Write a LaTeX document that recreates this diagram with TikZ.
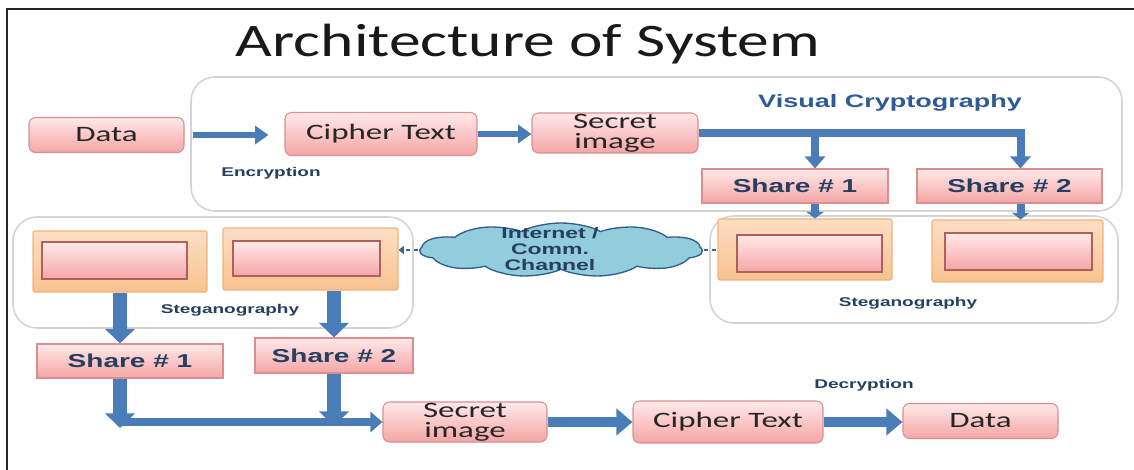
\documentclass[tikz,border=0pt]{standalone}
\usepackage{fontspec}
\usetikzlibrary{arrows.meta, shapes.symbols, calc}

\newfontfamily\boxfont[FakeStretch=1.5]{Carlito}
\newfontfamily\titlefont[FakeStretch=1.36]{Carlito}
\newfontfamily\labelfont[FakeStretch=1.5]{Liberation Sans}
\newcommand\px{*0.75pt}

\definecolor{pinktop}{HTML}{FFE9E9}
\definecolor{pinkbot}{HTML}{F5A5A5}
\definecolor{pinkline}{HTML}{D98F8F}
\definecolor{innerline}{HTML}{B0605C}
\definecolor{orangetop}{HTML}{FCDEC4}
\definecolor{orangebot}{HTML}{F8C28F}
\definecolor{orangeline}{HTML}{F2B27C}
\definecolor{groupline}{HTML}{D4D4D4}
\definecolor{arrowblue}{HTML}{4A7CB8}
\definecolor{navy}{HTML}{243F60}
\definecolor{vcblue}{HTML}{2E5A96}
\definecolor{cloudfill}{HTML}{93CDDD}
\definecolor{cloudline}{HTML}{2F5F86}

\tikzset{
  procbox/.style={draw=pinkline, line width=0.8pt, rounded corners=5pt,
    top color=pinktop, bottom color=pinkbot, inner sep=0pt, align=center,
    text=black!85, font=\boxfont\fontsize{16.5}{15}\selectfont},
  sharebox/.style={draw=pinkline, line width=0.8pt, top color=pinktop,
    bottom color=pinkbot, inner sep=0pt, text=navy,
    font=\labelfont\bfseries\fontsize{14}{16}\selectfont},
  hostbox/.style={draw=orangeline, line width=0.8pt, rounded corners=1.5pt,
    top color=orangetop, bottom color=orangebot, inner sep=0pt},
  innerbox/.style={draw=innerline, line width=0.8pt, top color=pinktop,
    bottom color=pinkbot, inner sep=0pt},
  groupbox/.style={draw=groupline, line width=1.2pt, rounded corners=18pt},
  tag/.style={text=navy, font=\labelfont\bfseries\fontsize{9.5}{11}\selectfont},
  flow/.style={draw=arrowblue, line width=5pt, -{Triangle[width=13.5pt,length=10pt]}},
  barflow/.style={draw=arrowblue, line width=6pt, -{Triangle[width=15pt,length=9pt]}},
  smallflow/.style={draw=arrowblue, line width=6pt, -{Triangle[width=13pt,length=5pt]}},
  bigflow/.style={draw=arrowblue, line width=10pt, -{Triangle[width=22pt,length=11pt]}},
  wideflow/.style={draw=arrowblue, line width=8pt, -{Triangle[width=19.5pt,length=12pt]}},
  dashlink/.style={draw=arrowblue!80!black, line width=2pt, dashed}
}

\begin{document}
\begin{tikzpicture}[x=0.75pt, y=-0.75pt]
  \useasboundingbox (0,0) rectangle (1134,470);
  \draw[line width=1.5pt, black!85] (7,470) -- (7,9) -- (1134,9);

  \node[anchor=base, font=\titlefont\fontsize{35}{40}\selectfont, text=black!90]
    (title) at (528,57) {Architecture of System};

  % group outlines
  \draw[groupbox] (191,77) rectangle (1122,211);
  \draw[groupbox] (13,217) rectangle (413,328);
  \draw[groupbox] (710,216) rectangle (1118,323);

  % encryption side
  \node[procbox, minimum width=155\px, minimum height=35\px] (data1) at (106.5,135) {Data};
  \node[procbox, minimum width=192\px, minimum height=43\px] (cipher1) at (381,134) {Cipher Text};
  \node[procbox, minimum width=166\px, minimum height=40\px] (secret1) at (615,133) {Secret\\image};
  \node[tag] (enc) at (271,173) {Encryption};
  \node[text=vcblue, font=\labelfont\bfseries\fontsize{13.5}{15}\selectfont]
    (vc) at (890,103) {Visual Cryptography};

  \node[sharebox, minimum width=186\px, minimum height=34\px] (share1a) at (795,186) {Share \# 1};
  \node[sharebox, minimum width=185\px, minimum height=34\px] (share2a) at (1009.5,186) {Share \# 2};

  % stego boxes, right
  \node[hostbox, minimum width=174\px, minimum height=61\px] (r1) at (805,249.5) {};
  \node[innerbox, minimum width=145\px, minimum height=37\px] (r1in) at (809.5,253.5) {};
  \node[hostbox, minimum width=171\px, minimum height=62\px] (r2) at (1017.5,251) {};
  \node[innerbox, minimum width=147\px, minimum height=37\px] (r2in) at (1018.5,251.5) {};
  \node[tag] (stegr) at (908,303) {Steganography};

  % stego boxes, left
  \node[hostbox, minimum width=174\px, minimum height=61\px] (l1) at (120,261.5) {};
  \node[innerbox, minimum width=145\px, minimum height=37\px] (l1in) at (114.5,260.5) {};
  \node[hostbox, minimum width=175\px, minimum height=62\px] (l2) at (310.5,259) {};
  \node[innerbox, minimum width=147\px, minimum height=35\px] (l2in) at (306.5,258.5) {};
  \node[tag] (stegl) at (230,310) {Steganography};

  % channel
  \node[cloud, cloud puffs=11, cloud puff arc=110, aspect=1.6, draw=cloudline,
    fill=cloudfill, line width=1pt, inner sep=0pt, xscale=2.4, transform shape,
    minimum width=118\px, minimum height=54\px] (net) at (561,250) {};
  \node[align=center, text=navy, font=\labelfont\bfseries\fontsize{11.5}{12}\selectfont]
    (nettext) at (550,249) {Internet /\\Comm.\\Channel};

  % decryption side
  \node[sharebox, minimum width=186\px, minimum height=34\px] (share1b) at (130,361) {Share \# 1};
  \node[sharebox, minimum width=158\px, minimum height=35\px] (share2b) at (334,355.5) {Share \# 2};
  \node[procbox, minimum width=164\px, minimum height=40\px] (secret2) at (465,422) {Secret\\image};
  \node[procbox, minimum width=190\px, minimum height=42\px] (cipher2) at (728,422) {Cipher Text};
  \node[procbox, minimum width=155\px, minimum height=35\px] (data2) at (980.5,421) {Data};
  \node[tag] (dec) at (864,385) {Decryption};

  % arrows, top
  \draw[flow, shorten <=6pt, shorten >=12pt] (data1.east) -- (data1.east -| cipher1.west);
  \draw[flow] (cipher1.east) -- (cipher1.east -| secret1.west);
  \coordinate (drop1) at ($(share1a.north)+(20,0)$);
  \coordinate (drop2) at ($(share2a.north)+(11,0)$);
  \draw[barflow] (secret1.east) -| (drop2);
  \draw[barflow] (drop1 |- secret1.east) -- (drop1);
  \draw[smallflow] (share1a.south -| drop1) -- (r1.north -| drop1);
  \draw[smallflow] (share2a.south -| drop2) -- (r2.north -| drop2);

  % channel links
  \draw[dashlink, -{Triangle[width=6pt,length=4pt]}] (net.west) -- (net.west -| l2.east);
  \draw[dashlink] (net.east) -- (net.east -| r1.west);

  % arrows, bottom
  \draw[bigflow] (l1.south) -- (l1.south |- share1b.north);
  \draw[bigflow] (share2b.north |- l2.south) -- (share2b.north);
  \coordinate (corner) at (l1.south |- secret2.west);
  \draw[bigflow] (share1b.south -| corner) -- ($(corner)+(0,6)$);
  \draw[bigflow] (share2b.south) -- ($(share2b.south |- corner)+(0,4)$);
  \draw[barflow] (corner) -- (secret2.west);
  \draw[wideflow] (secret2.east) -- (cipher2.west);
  \draw[wideflow] (cipher2.east) -- (cipher2.east -| data2.west);
\end{tikzpicture}
\end{document}
